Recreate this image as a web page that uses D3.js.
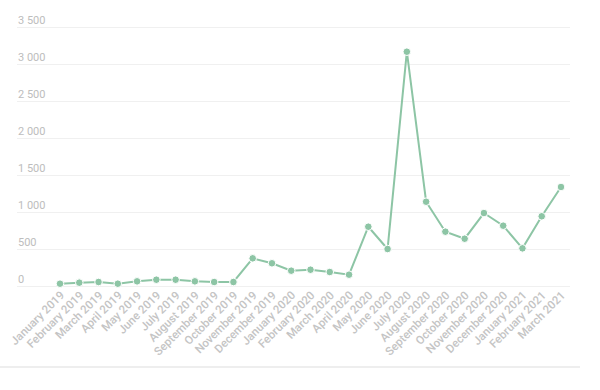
<!DOCTYPE html>
<html>
<head>
<meta charset="utf-8">
<script src="https://cdn.jsdelivr.net/npm/d3@7"></script>
<style>
  body { margin: 0; background: #fff; }
  svg { display: block; font-family: Roboto, sans-serif; }
</style>
</head>
<body>
<svg id="chart" width="600" height="390"></svg>
<script>
const months = [
  "January 2019", "February 2019", "March 2019", "April 2019", "May 2019",
  "June 2019", "July 2019", "August 2019", "September 2019", "October 2019",
  "November 2019", "December 2019", "January 2020", "February 2020",
  "March 2020", "April 2020", "May 2020", "June 2020", "July 2020",
  "August 2020", "September 2020", "October 2020", "November 2020",
  "December 2020", "January 2021", "February 2021", "March 2021",
];
const counts = [
  31, 45, 54, 31, 63, 85, 85, 63, 54, 54,
  374, 307, 207, 220, 189, 153, 801, 500, 3166,
  1139, 734, 639, 986, 815, 509, 942, 1338,
];
const yTicks = [0, 500, 1000, 1500, 2000, 2500, 3000, 3500];

const color = "#8dc5a5";
const svg = d3.select("#chart");

const x = d3.scalePoint().domain(months).range([60, 561]);
const y = d3.scaleLinear().domain([0, 3500]).range([286, 27]);

const fmt = (v) => d3.format(",")(v).replace(",", " ");

// grid + y labels
const grid = svg.append("g");
grid.selectAll("line")
  .data(yTicks)
  .join("line")
  .attr("x1", 17)
  .attr("x2", 570)
  .attr("y1", (d) => y(d) + 0.5)
  .attr("y2", (d) => y(d) + 0.5)
  .attr("stroke", "#f0f0f0");
grid.selectAll("text")
  .data(yTicks)
  .join("text")
  .attr("x", 18)
  .attr("y", (d) => y(d) - 3)
  .attr("fill", "#bdbdbd")
  .attr("font-size", 11)
  .text(fmt);

// x labels
svg.append("g")
  .selectAll("text")
  .data(months)
  .join("text")
  .attr("transform", (d) => `translate(${x(d) + 5},${296}) rotate(-45)`)
  .attr("text-anchor", "end")
  .attr("fill", "#c4c4c4")
  .attr("font-size", 11.5)
  .attr("font-weight", 500)
  .text((d) => d);

// bottom border
svg.append("line")
  .attr("x1", 0).attr("x2", 580)
  .attr("y1", 367).attr("y2", 367)
  .attr("stroke", "#eeeeee")
  .attr("stroke-width", 2);

const line = d3.line()
  .x((d, i) => x(months[i]))
  .y((d) => y(d));

svg.append("path")
  .attr("d", line(counts))
  .attr("fill", "none")
  .attr("stroke", color)
  .attr("stroke-width", 2);

svg.append("g")
  .selectAll("circle")
  .data(counts)
  .join("circle")
  .attr("cx", (d, i) => x(months[i]))
  .attr("cy", (d) => y(d))
  .attr("r", 3.8)
  .attr("fill", color)
  .attr("stroke", "#fff")
  .attr("stroke-width", 1);
</script>
</body>
</html>
